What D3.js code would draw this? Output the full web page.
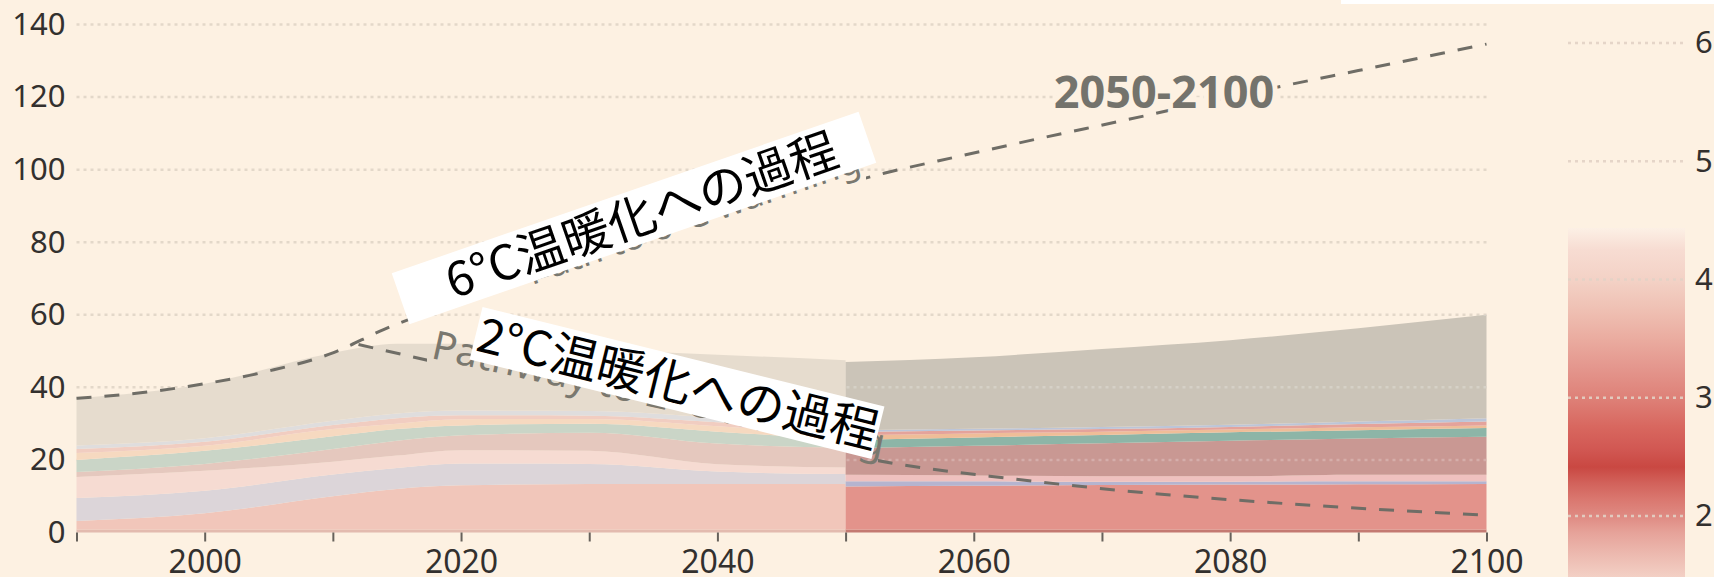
<!DOCTYPE html>
<html><head><meta charset="utf-8">
<script src="https://cdn.jsdelivr.net/npm/d3@7"></script>
<style>
html,body{margin:0;padding:0;background:#fdf1e2;}
svg{display:block;}
</style></head>
<body>
<svg id="chart" width="1714" height="577"></svg>
<script>
// ---------------- data ----------------
const layerKeys = ["base","red","lavender","pink","mauve","teal","orange","rosy","blue","grey"];

const pastYears    = [1990, 2000, 2010, 2015, 2020, 2030, 2040, 2050];
const pastBase     = [0.8, 0.8, 0.8, 0.8, 0.8, 0.8, 0.8, 0.8];
const pastRed      = [2.4, 4.5, 9.2, 11.2, 12.2, 12.6, 12.6, 12.6];
const pastLavender = [6.3, 6.2, 6.0, 5.8, 6.0, 5.5, 3.4, 2.7];
const pastPink     = [5.8, 5.5, 3.5, 3.4, 3.7, 3.6, 2.0, 1.8];
const pastMauve    = [1.4, 1.9, 3.5, 4.1, 4.1, 5.0, 5.7, 5.5];
const pastTeal     = [3.3, 3.6, 3.5, 3.2, 2.7, 2.5, 3.3, 2.1];
const pastOrange   = [1.9, 1.4, 2.0, 1.5, 1.7, 1.3, 1.5, 1.5];
const pastRosy     = [1.1, 1.1, 1.1, 1.5, 1.1, 0.9, 1.1, 1.0];
const pastBlue     = [1.0, 1.0, 1.2, 1.3, 1.3, 1.3, 1.2, 1.0];
const pastGrey     = [13.0, 15.0, 18.7, 19.2, 18.4, 17.0, 17.4, 18.5];

const futureYears    = [2050, 2060, 2070, 2080, 2090, 2100];
const futureBase     = [0.8, 0.8, 0.8, 0.8, 0.8, 0.8];
const futureRed      = [11.9, 12.1, 12.3, 12.4, 12.5, 12.6];
const futureLavender = [1.4, 1.2, 0.9, 0.8, 0.8, 0.7];
const futurePink     = [1.8, 1.6, 1.5, 1.5, 1.8, 1.8];
const futureMauve    = [7.3, 8.2, 9.1, 9.8, 10.0, 10.5];
const futureTeal     = [2.3, 2.3, 2.3, 2.3, 2.3, 2.4];
const futureOrange   = [1.3, 1.1, 0.9, 0.8, 0.8, 0.7];
const futureRosy     = [0.9, 0.8, 0.7, 0.7, 0.9, 1.1];
const futureBlue     = [0.5, 0.5, 0.6, 0.6, 0.7, 0.9];
const futureGrey     = [18.8, 19.7, 21.5, 23.3, 25.7, 28.5];

const sixYears = [1990, 1995, 2000, 2005, 2010, 2014, 2025, 2035, 2045, 2053, 2059, 2065, 2072, 2080, 2085, 2090, 2100];
const sixVals  = [37, 38.5, 41, 44.5, 49.5, 56, 69, 80, 91, 99, 103.8, 108.5, 113.8, 120, 123.7, 127.3, 134.6];

const twoYears = [2012, 2016, 2030, 2040, 2050, 2054, 2063, 2072, 2085, 2100];
const twoVals  = [51.8, 48.6, 37, 29, 21.5, 18.9, 14.8, 11.4, 7.8, 4.8];

const yTicks = [0, 20, 40, 60, 80, 100, 120, 140];
const xTicks = [1990, 2000, 2010, 2020, 2030, 2040, 2050, 2060, 2070, 2080, 2090, 2100];
const xLabelled = [2000, 2020, 2040, 2060, 2080, 2100];
const rightTicks = [2, 3, 4, 5, 6];

const label6 = "6°C温暖化への過程";
const label2 = "2°C温暖化への過程";
const under6 = "Path to 6°C warming";
const under2 = "Pathway to 2°C warming";
const periodLabel = "2050-2100";

// ---------------- styles ----------------
const BG = "#fdf1e2";
const colours = {
  base: "#c47a72", red: "#e3938b", lavender: "#b5b4cf", pink: "#efc1bf",
  mauve: "#c99893", teal: "#8db5a7", orange: "#efbd98", rosy: "#e4a39b",
  blue: "#bcc5d8", grey: "#cbc4b8"
};
const FONT = "'Noto Sans', 'DejaVu Sans', sans-serif";
const CJK = "'Noto Sans CJK JP', 'Noto Sans CJK SC', sans-serif";

const svg = d3.select("#chart");
const defs = svg.append("defs");
svg.append("rect").attr("width",1714).attr("height",577).attr("fill",BG);
svg.append("rect").attr("x",1341).attr("y",0).attr("width",373).attr("height",4).attr("fill","#fff");

const x = d3.scaleLinear().domain([1990, 2100]).range([76.5, 1486.5]);
const y = d3.scaleLinear().domain([0, 140]).range([532.5, 24.5]);

function rows(years, arrs) {
  return years.map((yr, i) => {
    const o = {year: yr};
    layerKeys.forEach((k, j) => o[k] = arrs[j][i]);
    return o;
  });
}
const pastRows = rows(pastYears, [pastBase,pastRed,pastLavender,pastPink,pastMauve,pastTeal,pastOrange,pastRosy,pastBlue,pastGrey]);
const futureRows = rows(futureYears, [futureBase,futureRed,futureLavender,futurePink,futureMauve,futureTeal,futureOrange,futureRosy,futureBlue,futureGrey]);

const stack = d3.stack().keys(layerKeys);
const pastStack = stack(pastRows);
const futureStack = stack(futureRows);

const area = d3.area().x(d => x(d.data.year)).y0(d => y(d[0])).y1(d => y(d[1])).curve(d3.curveMonotoneX);
const totalArea = d3.area().x(d => x(d.data.year)).y0(y(0)).y1(d => y(d[1])).curve(d3.curveMonotoneX);

function gridlines(g, stroke, op) {
  g.selectAll("line").data(yTicks.filter(v => v > 0)).join("line")
    .attr("x1", x(1990)).attr("x2", x(2100) + 4)
    .attr("y1", d => y(d)).attr("y2", d => y(d))
    .attr("stroke", stroke).attr("stroke-width", 2.5)
    .attr("stroke-dasharray", "3,4").attr("opacity", op);
}
gridlines(svg.append("g"), "#e3d8c9", 1);

// past areas (faded)
svg.append("path").datum(pastStack[pastStack.length - 1]).attr("d", totalArea).attr("fill", BG);
svg.append("g").attr("opacity", 0.45)
  .selectAll("path").data(pastStack).join("path")
  .attr("d", area).attr("fill", d => colours[d.key]);

// future areas
svg.append("g").selectAll("path").data(futureStack).join("path")
  .attr("d", area).attr("fill", d => colours[d.key]);

// gridlines over future areas
defs.append("clipPath").attr("id","futClip").append("path")
  .datum(futureStack[futureStack.length - 1]).attr("d", totalArea);
gridlines(svg.append("g").attr("clip-path","url(#futClip)"), "#ffffff", 0.22);

// axes
const yAxis = svg.append("g").attr("transform", `translate(${x(1990)},0)`)
  .call(d3.axisLeft(y).tickValues(yTicks).tickSize(0).tickPadding(11));
yAxis.select(".domain").remove();
yAxis.selectAll("text").attr("font-family", FONT).attr("font-size", 31).attr("fill", "#33302e");

const xAxis = svg.append("g").attr("transform", `translate(0,${y(0)})`)
  .call(d3.axisBottom(x).tickValues(xTicks).tickSize(9).tickPadding(9)
    .tickFormat(d => xLabelled.includes(d) ? String(d) : ""));
xAxis.select(".domain").remove();
xAxis.selectAll("line").attr("stroke", "#66615b").attr("stroke-width", 2);
xAxis.selectAll("text").attr("font-family", FONT).attr("font-size", 32).attr("fill", "#33302e");

// dashed pathway lines
const lineGen = d3.line().x(d => x(d[0])).y(d => y(d[1])).curve(d3.curveMonotoneX);
const c6 = defs.append("clipPath").attr("id","clip6");
c6.append("rect").attr("x",0).attr("y",0).attr("width",553).attr("height",577);
c6.append("rect").attr("x",866).attr("y",0).attr("width",848).attr("height",577);
const c2 = defs.append("clipPath").attr("id","clip2");
c2.append("rect").attr("x",0).attr("y",0).attr("width",427).attr("height",577);
c2.append("rect").attr("x",878).attr("y",0).attr("width",836).attr("height",577);

svg.append("path").datum(sixYears.map((yr,i)=>[yr, sixVals[i]]))
  .attr("d", lineGen).attr("fill","none").attr("stroke","#6f6d66").attr("stroke-width",3)
  .attr("stroke-dasharray","15,13").attr("clip-path","url(#clip6)");
svg.append("path").datum(twoYears.map((yr,i)=>[yr, twoVals[i]]))
  .attr("d", lineGen).attr("fill","none").attr("stroke","#6f6d66").attr("stroke-width",3)
  .attr("stroke-dasharray","15,13").attr("clip-path","url(#clip2)");

// original english labels (mostly hidden under the translation boxes)
svg.append("text").attr("transform", "translate(634,218) rotate(-19.1)")
  .attr("x", 231).attr("y", 30).attr("text-anchor","end")
  .attr("font-family",FONT).attr("font-size",36).attr("fill","#7a786f").text(under6);
svg.append("text").attr("transform", "translate(430,358) rotate(12.4)")
  .attr("text-anchor","start").attr("font-family",FONT).attr("font-size",40).attr("fill","#7a786f").text(under2);

// period label with knockout halo
svg.append("text").attr("x",1164).attr("y",108).attr("text-anchor","middle")
  .attr("font-family",FONT).attr("font-weight","bold").attr("font-size",45)
  .attr("fill","#74736c").attr("stroke",BG).attr("stroke-width",10).attr("paint-order","stroke")
  .text(periodLabel);

// white translation boxes
function boxLabel(cx, cy, angle, w, h, txt, dx) {
  const g = svg.append("g").attr("transform", `translate(${cx},${cy}) rotate(${angle})`);
  g.append("rect").attr("x",-w/2).attr("y",-h/2).attr("width",w).attr("height",h).attr("fill","#fff");
  g.append("text").attr("x",dx).attr("y",17).attr("text-anchor","middle")
    .attr("font-family",CJK).attr("font-size",48).attr("fill","#000").text(txt);
}
boxLabel(634, 218, -19.1, 494, 54, label6, 8);
boxLabel(677, 383, 13.9, 414, 54, label2, 1);

// right colour scale
const yr = d3.scaleLinear().domain([2, 6]).range([516, 43]);
const grad = defs.append("linearGradient").attr("id","grad").attr("x1",0).attr("y1",0).attr("x2",0).attr("y2",1);
[[0,"#fcf0e5"],[0.063,"#f7dcd2"],[0.152,"#f3d1c5"],[0.235,"#efc0b3"],[0.321,"#eaab9f"],
 [0.398,"#e4978e"],[0.487,"#de8178"],[0.570,"#d8675f"],[0.636,"#d15752"],[0.685,"#c94842"],
 [0.731,"#d2625b"],[0.779,"#da7870"],[0.825,"#df8a82"],[0.874,"#e6a39a"],[0.931,"#ecb8ae"],[1,"#f3d0c5"]]
  .forEach(s => grad.append("stop").attr("offset",s[0]).attr("stop-color",s[1]));
svg.append("rect").attr("x",1568).attr("y",228).attr("width",117).attr("height",349).attr("fill","url(#grad)");
svg.append("g").selectAll("line").data(rightTicks).join("line")
  .attr("x1",1568).attr("x2",1685).attr("y1",d=>yr(d)).attr("y2",d=>yr(d))
  .attr("stroke","#e3d2c6").attr("stroke-width",2.5).attr("stroke-dasharray","3,4").attr("opacity",0.9);
const rAxis = svg.append("g").attr("transform","translate(1685,0)")
  .call(d3.axisRight(yr).tickValues(rightTicks).tickSize(0).tickPadding(10).tickFormat(d3.format("d")));
rAxis.select(".domain").remove();
rAxis.selectAll("text").attr("font-family",FONT).attr("font-size",31).attr("fill","#33302e");
</script>
</body></html>
